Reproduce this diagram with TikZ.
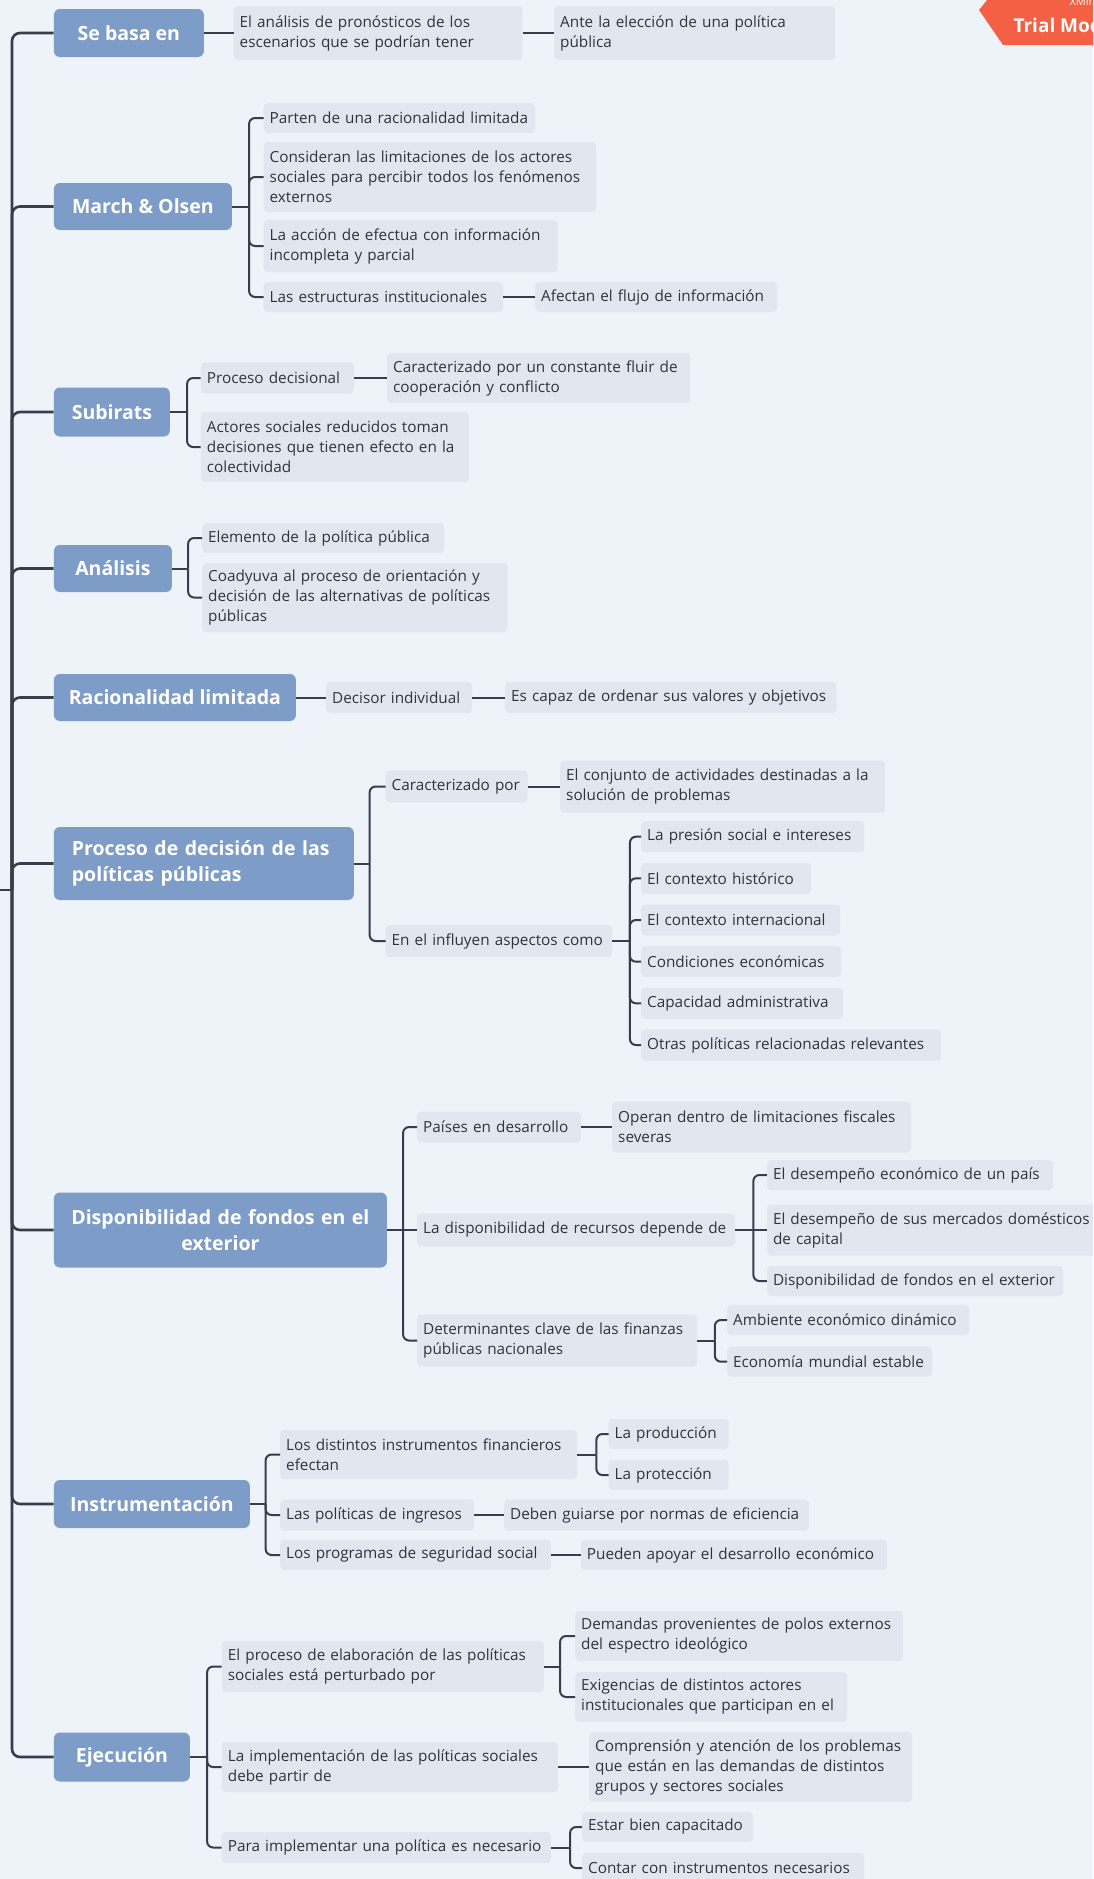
\documentclass[tikz,border=0pt]{standalone}
\usepackage{fontspec}
\setmainfont{Open Sans}
\usetikzlibrary{calc}
\definecolor{bgc}{RGB}{238,243,250}
\definecolor{mainc}{RGB}{125,156,199}
\definecolor{leafc}{RGB}{226,231,239}
\definecolor{linec}{RGB}{55,61,74}
\definecolor{badgec}{RGB}{244,96,68}
\definecolor{txtc}{RGB}{46,51,62}
\begin{document}
\begin{tikzpicture}[x=1pt,y=-1pt,
  leaf/.style={fill=leafc, rounded corners=4pt, inner xsep=6pt, inner ysep=2pt, anchor=west, align=left, text=txtc, font=\fontsize{15.3}{20}\selectfont},
  mainbox/.style={fill=mainc, rounded corners=6pt, inner xsep=0pt, inner ysep=2pt, anchor=west, align=center, text=white, font=\fontsize{19.5}{26}\selectfont\bfseries},
  conn/.style={draw=linec, line width=2pt, rounded corners=6pt},
  trunk/.style={draw=linec, line width=2.6pt, rounded corners=8pt}]
\useasboundingbox (0,0) rectangle (1093,1879);
\clip (0,0) rectangle (1093,1879);
\fill[bgc] (0,0) rectangle (1093,1879);

% badge
\fill[badgec] (987,0) -- (979,10) -- (1003,45) -- (1093,45) -- (1093,0) -- cycle;
\node[anchor=west, text=white, font=\fontsize{19}{19}\selectfont\bfseries] (trial) at (1010,25) {Trial Mode};
\node[anchor=west, text=white, font=\fontsize{11}{11}\selectfont] (xm) at (1066,1) {XMind};

% main topics
\node[mainbox, minimum width=150pt, minimum height=48pt] (m1) at (53.7,33) {Se basa en};
\node[mainbox, minimum width=178pt, minimum height=47pt] (m2) at (53.7,206.5) {March \& Olsen};
\node[mainbox, minimum width=116pt, minimum height=49pt] (m3) at (53.7,412) {Subirats};
\node[mainbox, minimum width=118pt, minimum height=47pt] (m4) at (53.7,568.5) {Análisis};
\node[mainbox, minimum width=242pt, minimum height=47pt] (m5) at (53.7,697.5) {Racionalidad limitada};
\node[mainbox, align=left, inner xsep=18pt, text width=264pt, minimum height=73pt] (m6) at (53.7,863.5) {Proceso de decisión de las\\políticas públicas};
\node[mainbox, align=center, inner xsep=10pt, text width=313pt, minimum height=75pt] (m7) at (53.7,1230) {Disponibilidad de fondos en el\\exterior};
\node[mainbox, minimum width=196pt, minimum height=48pt] (m8) at (53.7,1504) {Instrumentación};
\node[mainbox, minimum width=136pt, minimum height=49pt] (m9) at (53.7,1757) {Ejecución};

% trunk
\coordinate (root) at (0,890);
\coordinate (tj) at (12,890);
\draw[trunk] (root) -- (tj);
\foreach \m in {m1,m2,m3,m4,m5,m6,m7,m8,m9} \draw[trunk] (tj) |- (\m.west);

% Se basa en
\node[leaf, text width=277pt, minimum height=54pt] (a1) at (233.5,33) {El análisis de pronósticos de los\\escenarios que se podrían tener};
\node[leaf, text width=269pt, minimum height=54pt] (a2) at (554,33) {Ante la elección de una política\\pública};
\draw[conn] (m1.east) -- (a1.west);
\draw[conn] (a1.east) -- (a2.west);

% March & Olsen
\node[leaf, text width=259.5pt, minimum height=30pt] (b1) at (263.5,118) {Parten de una racionalidad limitada};
\node[leaf, text width=320.5pt, minimum height=70pt] (b2) at (263.5,177) {Consideran las limitaciones de los actores\\sociales para percibir todos los fenómenos\\externos};
\node[leaf, text width=282pt, minimum height=52pt] (b3) at (263.5,246) {La acción de efectua con información\\incompleta y parcial};
\node[leaf, text width=227.5pt, minimum height=30pt] (b4) at (263.5,297) {Las estructuras institucionales};
\node[leaf, text width=230pt, minimum height=30pt] (b5) at (535,297) {Afectan el flujo de información};
\coordinate (bm2) at ($(m2.east)+(17,0)$);
\draw[conn] (m2.east) -- (bm2);
\foreach \c in {b1,b2,b3,b4} \draw[conn] (bm2) |- (\c.west);
\draw[conn] (b4.east) -- (b5.west);

% Subirats
\node[leaf, text width=141pt, minimum height=31pt] (c1) at (200.7,378) {Proceso decisional};
\node[leaf, text width=291pt, minimum height=50pt] (c2) at (387,378) {Caracterizado por un constante fluir de\\cooperación y conflicto};
\node[leaf, text width=256pt, minimum height=70pt] (c3) at (200.7,447) {Actores sociales reducidos toman\\decisiones que tienen efecto en la\\colectividad};
\coordinate (bm3) at ($(m3.east)+(17,0)$);
\draw[conn] (m3.east) -- (bm3);
\foreach \c in {c1,c3} \draw[conn] (bm3) |- (\c.west);
\draw[conn] (c1.east) -- (c2.west);

% Analisis
\node[leaf, text width=230pt, minimum height=30pt] (d1) at (202,538) {Elemento de la política pública};
\node[leaf, text width=293.5pt, minimum height=69pt] (d2) at (202,597.5) {Coadyuva al proceso de orientación y\\decisión de las alternativas de políticas\\públicas};
\coordinate (bm4) at ($(m4.east)+(16,0)$);
\draw[conn] (m4.east) -- (bm4);
\foreach \c in {d1,d2} \draw[conn] (bm4) |- (\c.west);

% Racionalidad limitada
\node[leaf, text width=134pt, minimum height=31pt] (e1) at (326,697.5) {Decisor individual};
\node[leaf, text width=319.5pt, minimum height=31pt] (e2) at (505,697.5) {Es capaz de ordenar sus valores y objetivos};
\draw[conn] (m5.east) -- (e1.west);
\draw[conn] (e1.east) -- (e2.west);

% Proceso de decision
\node[leaf, text width=130pt, minimum height=32pt] (f1) at (385.5,786.5) {Caracterizado por};
\node[leaf, text width=313pt, minimum height=52pt] (f2) at (560,786.5) {El conjunto de actividades destinadas a la\\solución de problemas};
\node[leaf, text width=214.5pt, minimum height=32pt] (f3) at (385.5,941) {En el influyen aspectos como};
\node[leaf, text width=211pt, minimum height=31pt] (g1) at (641,836.7) {La presión social e intereses};
\node[leaf, text width=158pt, minimum height=31pt] (g2) at (641,878.3) {El contexto histórico};
\node[leaf, text width=187pt, minimum height=31pt] (g3) at (641,920) {El contexto internacional};
\node[leaf, text width=188pt, minimum height=31pt] (g4) at (641,961.7) {Condiciones económicas};
\node[leaf, text width=190pt, minimum height=31pt] (g5) at (641,1003.3) {Capacidad administrativa};
\node[leaf, text width=288pt, minimum height=31pt] (g6) at (641,1045) {Otras políticas relacionadas relevantes};
\coordinate (bm6) at ($(m6.east)+(15.5,0)$);
\draw[conn] (m6.east) -- (bm6);
\foreach \c in {f1,f3} \draw[conn] (bm6) |- (\c.west);
\draw[conn] (f1.east) -- (f2.west);
\coordinate (bf3) at ($(f3.east)+(17.5,0)$);
\draw[conn] (f3.east) -- (bf3);
\foreach \c in {g1,g2,g3,g4,g5,g6} \draw[conn] (bf3) |- (\c.west);

% Disponibilidad
\node[leaf, text width=151.6pt, minimum height=31pt] (h1) at (417,1127) {Países en desarrollo};
\node[leaf, text width=287pt, minimum height=51pt] (h2) at (612,1127) {Operan dentro de limitaciones fiscales\\severas};
\node[leaf, text width=306pt, minimum height=33pt] (h3) at (417,1230) {La disponibilidad de recursos depende de};
\node[leaf, text width=274pt, minimum height=30pt] (i1) at (766.8,1175) {El desempeño económico de un país};
\node[leaf, text width=333pt, minimum height=51pt] (i2) at (766.8,1230) {El desempeño de sus mercados domésticos\\de capital};
\node[leaf, text width=284pt, minimum height=30pt] (i3) at (766.8,1281) {Disponibilidad de fondos en el exterior};
\node[leaf, text width=268pt, minimum height=52pt] (h4) at (417,1340.5) {Determinantes clave de las finanzas\\públicas nacionales};
\node[leaf, text width=230pt, minimum height=30pt] (j1) at (727,1320) {Ambiente económico dinámico};
\node[leaf, text width=193pt, minimum height=30pt] (j2) at (727,1361.7) {Economía mundial estable};
\coordinate (bm7) at ($(m7.east)+(16,0)$);
\draw[conn] (m7.east) -- (bm7);
\foreach \c in {h1,h4} \draw[conn] (bm7) |- (\c.west);
\draw[conn] (bm7) -- (h3.west);
\draw[conn] (h1.east) -- (h2.west);
\coordinate (bh3) at ($(h3.east)+(18,0)$);
\draw[conn] (h3.east) -- (bh3);
\foreach \c in {i1,i3} \draw[conn] (bh3) |- (\c.west);
\draw[conn] (bh3) -- (i2.west);
\coordinate (bh4) at ($(h4.east)+(17.5,0)$);
\draw[conn] (h4.east) -- (bh4);
\foreach \c in {j1,j2} \draw[conn] (bh4) |- (\c.west);

% Instrumentacion
\node[leaf, text width=285pt, minimum height=49pt] (k1) at (280,1454.5) {Los distintos instrumentos financieros\\efectan};
\node[leaf, text width=108pt, minimum height=30pt] (l1) at (608.5,1434) {La producción};
\node[leaf, text width=108pt, minimum height=30pt] (l2) at (608.5,1475) {La protección};
\node[leaf, text width=182pt, minimum height=31pt] (k2) at (280,1515) {Las políticas de ingresos};
\node[leaf, text width=292.6pt, minimum height=31pt] (k3) at (504,1515) {Deben guiarse por normas de eficiencia};
\node[leaf, text width=258.7pt, minimum height=30pt] (k4) at (280,1555) {Los programas de seguridad social};
\node[leaf, text width=294pt, minimum height=30pt] (k5) at (580.7,1555) {Pueden apoyar el desarrollo económico};
\coordinate (bm8) at ($(m8.east)+(15.5,0)$);
\draw[conn] (m8.east) -- (bm8);
\foreach \c in {k1,k2,k4} \draw[conn] (bm8) |- (\c.west);
\draw[conn] (k2.east) -- (k3.west);
\draw[conn] (k4.east) -- (k5.west);
\coordinate (bk1) at ($(k1.east)+(19,0)$);
\draw[conn] (k1.east) -- (bk1);
\foreach \c in {l1,l2} \draw[conn] (bk1) |- (\c.west);

% Ejecucion
\node[leaf, text width=310pt, minimum height=51pt] (n1) at (221.7,1666.5) {El proceso de elaboración de las políticas\\sociales está perturbado por};
\node[leaf, text width=315.7pt, minimum height=50pt] (o1) at (575,1636) {Demandas provenientes de polos externos\\del espectro ideológico};
\node[leaf, text width=260pt, minimum height=50pt] (o2) at (575,1697) {Exigencias de distintos actores\\institucionales que participan en el};
\node[leaf, text width=324pt, minimum height=50pt] (n2) at (221.7,1767) {La implementación de las políticas sociales\\debe partir de};
\node[leaf, text width=310.8pt, minimum height=70pt] (o3) at (589,1767) {Comprensión y atención de los problemas\\que están en las demandas de distintos\\grupos y sectores sociales};
\node[leaf, text width=317pt, minimum height=31pt] (n3) at (221.7,1847.5) {Para implementar una política es necesario};
\node[leaf, text width=159pt, minimum height=30pt] (p1) at (582,1827) {Estar bien capacitado};
\node[leaf, text width=270pt, minimum height=30pt] (p2) at (582,1868) {Contar con instrumentos necesarios};
\coordinate (bm9) at ($(m9.east)+(17,0)$);
\draw[conn] (m9.east) -- (bm9);
\foreach \c in {n1,n2,n3} \draw[conn] (bm9) |- (\c.west);
\draw[conn] (n2.east) -- (o3.west);
\coordinate (bn1) at ($(n1.east)+(16,0)$);
\draw[conn] (n1.east) -- (bn1);
\foreach \c in {o1,o2} \draw[conn] (bn1) |- (\c.west);
\coordinate (bn3) at ($(n3.east)+(19,0)$);
\draw[conn] (n3.east) -- (bn3);
\foreach \c in {p1,p2} \draw[conn] (bn3) |- (\c.west);
\end{tikzpicture}
\end{document}
